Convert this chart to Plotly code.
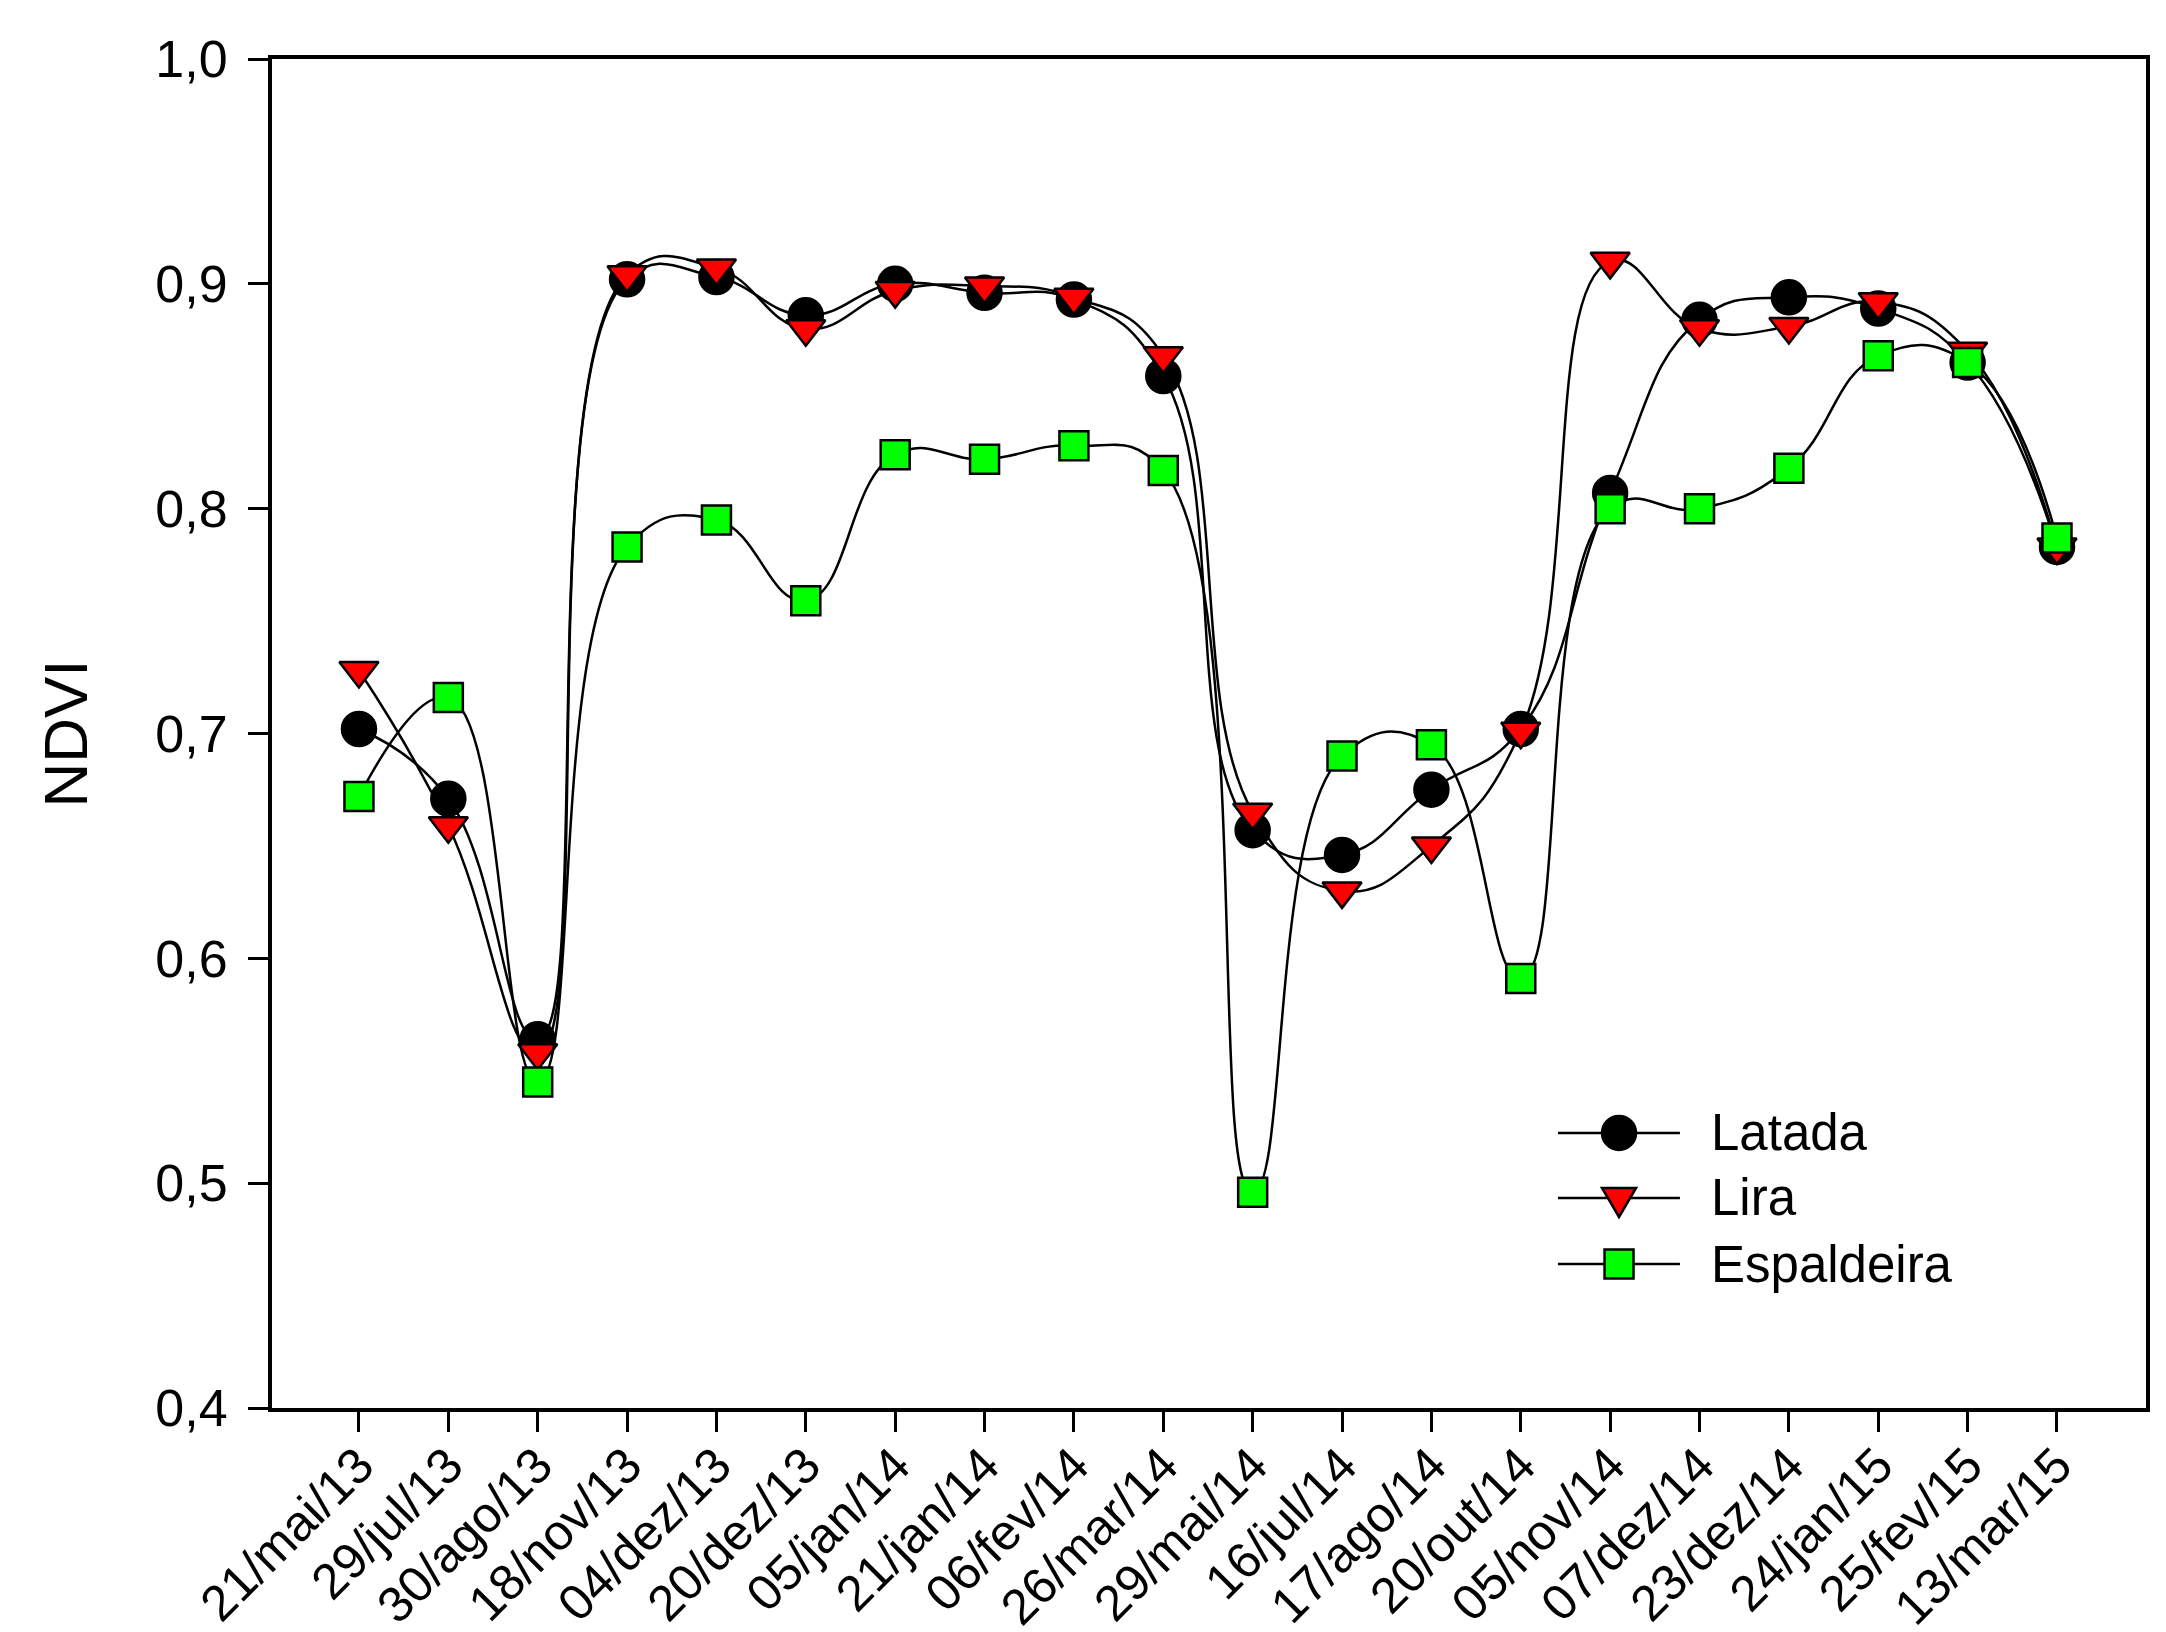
import plotly.graph_objects as go

dates = ["21/mai/13", "29/jul/13", "30/ago/13", "18/nov/13", "04/dez/13", "20/dez/13",
         "05/jan/14", "21/jan/14", "06/fev/14", "26/mar/14", "29/mai/14", "16/jul/14",
         "17/ago/14", "20/out/14", "05/nov/14", "07/dez/14", "23/dez/14", "24/jan/15",
         "25/fev/15", "13/mar/15"]

latada = [0.702, 0.671, 0.564, 0.902, 0.903, 0.886, 0.900, 0.896, 0.893, 0.859,
          0.657, 0.646, 0.675, 0.702, 0.807, 0.884, 0.894, 0.889, 0.865, 0.783]
lira = [0.728, 0.659, 0.558, 0.904, 0.907, 0.880, 0.897, 0.899, 0.894, 0.868,
        0.665, 0.630, 0.650, 0.701, 0.910, 0.880, 0.881, 0.892, 0.870, 0.783]
espaldeira = [0.672, 0.716, 0.545, 0.783, 0.795, 0.759, 0.824, 0.822, 0.828, 0.817,
              0.496, 0.690, 0.695, 0.591, 0.800, 0.800, 0.818, 0.868, 0.865, 0.787]

x = list(range(len(dates)))
FONT = "Liberation Sans, Arial, sans-serif"

fig = go.Figure()
series = [
    ("Latada", latada, "circle", "black", 34),
    ("Lira", lira, "triangle-down", "#ff0000", 34),
    ("Espaldeira", espaldeira, "square", "#00ff00", 29),
]
for name, vals, sym, col, size in series:
    fig.add_trace(go.Scatter(
        x=x, y=vals, name=name, mode="lines+markers",
        line=dict(color="black", width=2.5, shape="spline", smoothing=1.3),
        marker=dict(symbol=sym, size=size, color=col, line=dict(color="black", width=2.5)),
        showlegend=False,
    ))

# custom legend (paper coordinates) so the symbols keep their full size
leg_x0, leg_x1, leg_xm, leg_xt = 0.6862, 0.7513, 0.7188, 0.7668
leg_rows = [0.2039, 0.1557, 0.1067]
shapes = []
annotations = []
for (name, vals, sym, col, size), ly in zip(series, leg_rows):
    shapes.append(dict(type="line", xref="paper", yref="paper", x0=leg_x0, x1=leg_x1,
                       y0=ly, y1=ly, line=dict(color="black", width=2.5)))
    common = dict(xref="paper", yref="paper", xsizemode="pixel", ysizemode="pixel",
                  xanchor=leg_xm, yanchor=ly, fillcolor=col,
                  line=dict(color="black", width=2.5))
    if sym == "circle":
        shapes.append(dict(type="circle", x0=-17, x1=17, y0=-17, y1=17, **common))
    elif sym == "square":
        shapes.append(dict(type="rect", x0=-14.5, x1=14.5, y0=-14.5, y1=14.5, **common))
    else:
        shapes.append(dict(type="path", path="M -17,10 L 17,10 L 0,-19 Z", **common))
    annotations.append(dict(text=name, xref="paper", yref="paper", x=leg_xt, y=ly,
                            xanchor="left", yanchor="middle", showarrow=False,
                            font=dict(size=51, family=FONT, color="black")))

fig.update_layout(
    width=2166, height=1632,
    margin=dict(l=264, r=28, t=51, b=232),
    paper_bgcolor="white", plot_bgcolor="white",
    separators=",.",
    font=dict(family=FONT, size=50, color="black"),
    showlegend=False,
    shapes=shapes, annotations=annotations,
)
fig.update_xaxes(
    range=[-0.973, 19.996], tickmode="array", tickvals=x, ticktext=dates,
    tickangle=-45, ticks="outside", ticklen=20, tickwidth=3, tickcolor="black",
    showline=True, linewidth=4, linecolor="black", mirror=True,
    showgrid=False, zeroline=False, tickfont=dict(size=50), automargin=False,
    ticklabelstandoff=-16,
)
fig.update_yaxes(
    range=[0.4, 1.0], tickmode="array", tickvals=[0.4, 0.5, 0.6, 0.7, 0.8, 0.9, 1.0],
    tickformat=".1f", ticks="outside", ticklen=20, tickwidth=3, tickcolor="black",
    showline=True, linewidth=4, linecolor="black", mirror=True,
    showgrid=False, zeroline=False, tickfont=dict(size=52), automargin=False,
    ticklabelstandoff=10,
    title=dict(text="NDVI", font=dict(size=62), standoff=49),
)

fig.write_html("out.html")
